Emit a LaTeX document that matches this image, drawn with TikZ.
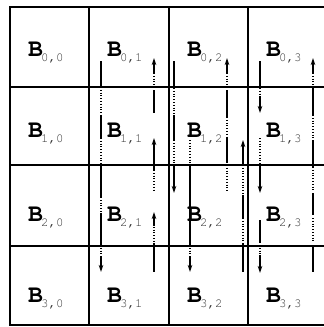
\documentclass[tikz,border=0pt]{standalone}
\usepackage[T1]{fontenc}
\usetikzlibrary{arrows.meta}
\tikzset{
  gridline/.style={line width=1.6bp, black},
  solidseg/.style={line width=1.3bp, black},
  dotseg/.style={line width=1.3bp, black, dash pattern=on 1bp off 1.8bp},
  tipseg/.style={line width=1.3bp, black, -{Stealth[length=7bp,width=4.5bp]}},
  blabel/.style={inner sep=0pt, anchor=base west, font=\fontfamily{pcr}\fontsize{25}{25}\selectfont}
}
\newcommand\segsolid[3]{\draw[solidseg] (#1,#2) -- (#1,#3);}
\newcommand\segdot[3]{\draw[dotseg] (#1,#2) -- (#1,#3);}
\newcommand\segtip[3]{\draw[tipseg] (#1,#2) -- (#1,#3);}
\newcommand\sbs[1]{{\fontsize{12.5}{12.5}\selectfont\mdseries\raisebox{-5bp}{\kern-2bp\textcolor{black!80}{#1}}}}
\begin{document}
\begin{tikzpicture}[x=1bp,y=-1bp]
\useasboundingbox (0,0) rectangle (324,327);
\clip (0,0) rectangle (324,327);
% grid
\draw[gridline] (10,7) rectangle (327,325);
\foreach \gx in {89,169,248} \draw[gridline] (\gx,7) -- (\gx,325);
\foreach \gy in {87,165,246} \draw[gridline] (10,\gy) -- (327,\gy);
% labels
\foreach \r/\by in {0/56,1/137,2/221,3/302}{
  \foreach \c/\bx in {0/28,1/107,2/187,3/266}{
    \node[blabel] (b\r\c) at (\bx,\by) {\bfseries B\sbs{\r,\c}};
  }
}
% line A
\segsolid{101}{61}{87}\segdot{101}{87}{115}\segsolid{101}{115}{138}\segdot{101}{138}{165}
\segsolid{101}{165}{197}\segdot{101}{197}{213}\segsolid{101}{213}{245}\segdot{101}{245}{258}
\segtip{101}{256}{272}
% line B
\segtip{154}{73}{58}\segdot{154}{73}{88}\segsolid{154}{90}{113}
\segtip{154}{152}{138}\segsolid{154}{150}{170}\segdot{154}{170}{192}
\segtip{154}{226}{212}\segdot{154}{224}{243}\segsolid{154}{243}{272}
% line C
\segsolid{174}{61}{87}\segdot{174}{88}{115}\segsolid{174}{115}{140}\segdot{174}{140}{165}
\segsolid{174}{165}{180}\segtip{174}{178}{193}
% line D
\segdot{190}{140}{165}\segsolid{190}{165}{245}\segdot{190}{245}{258}\segtip{190}{256}{272}
% line E
\segtip{227}{73}{58}\segdot{227}{73}{88}\segsolid{227}{90}{117}\segdot{227}{117}{138}
\segsolid{227}{138}{163}\segdot{227}{165}{192}
% line F
\segtip{243}{154}{140}\segsolid{243}{152}{165}\segdot{243}{165}{195}\segsolid{243}{195}{218}
\segdot{243}{218}{243}\segsolid{243}{243}{272}
% line G
\segsolid{260}{61}{87}\segdot{260}{88}{98}\segtip{260}{96}{113}
\segdot{260}{138}{165}\segsolid{260}{165}{180}\segtip{260}{178}{193}
\segsolid{260}{220}{243}\segdot{260}{245}{257}\segtip{260}{255}{273}
% line H
\segtip{313}{73}{58}\segdot{313}{73}{87}\segsolid{313}{87}{115}\segdot{313}{115}{140}
\segsolid{313}{140}{167}\segdot{313}{167}{192}\segsolid{313}{193}{215}\segdot{313}{218}{243}
\segsolid{313}{245}{272}
\end{tikzpicture}
\end{document}
